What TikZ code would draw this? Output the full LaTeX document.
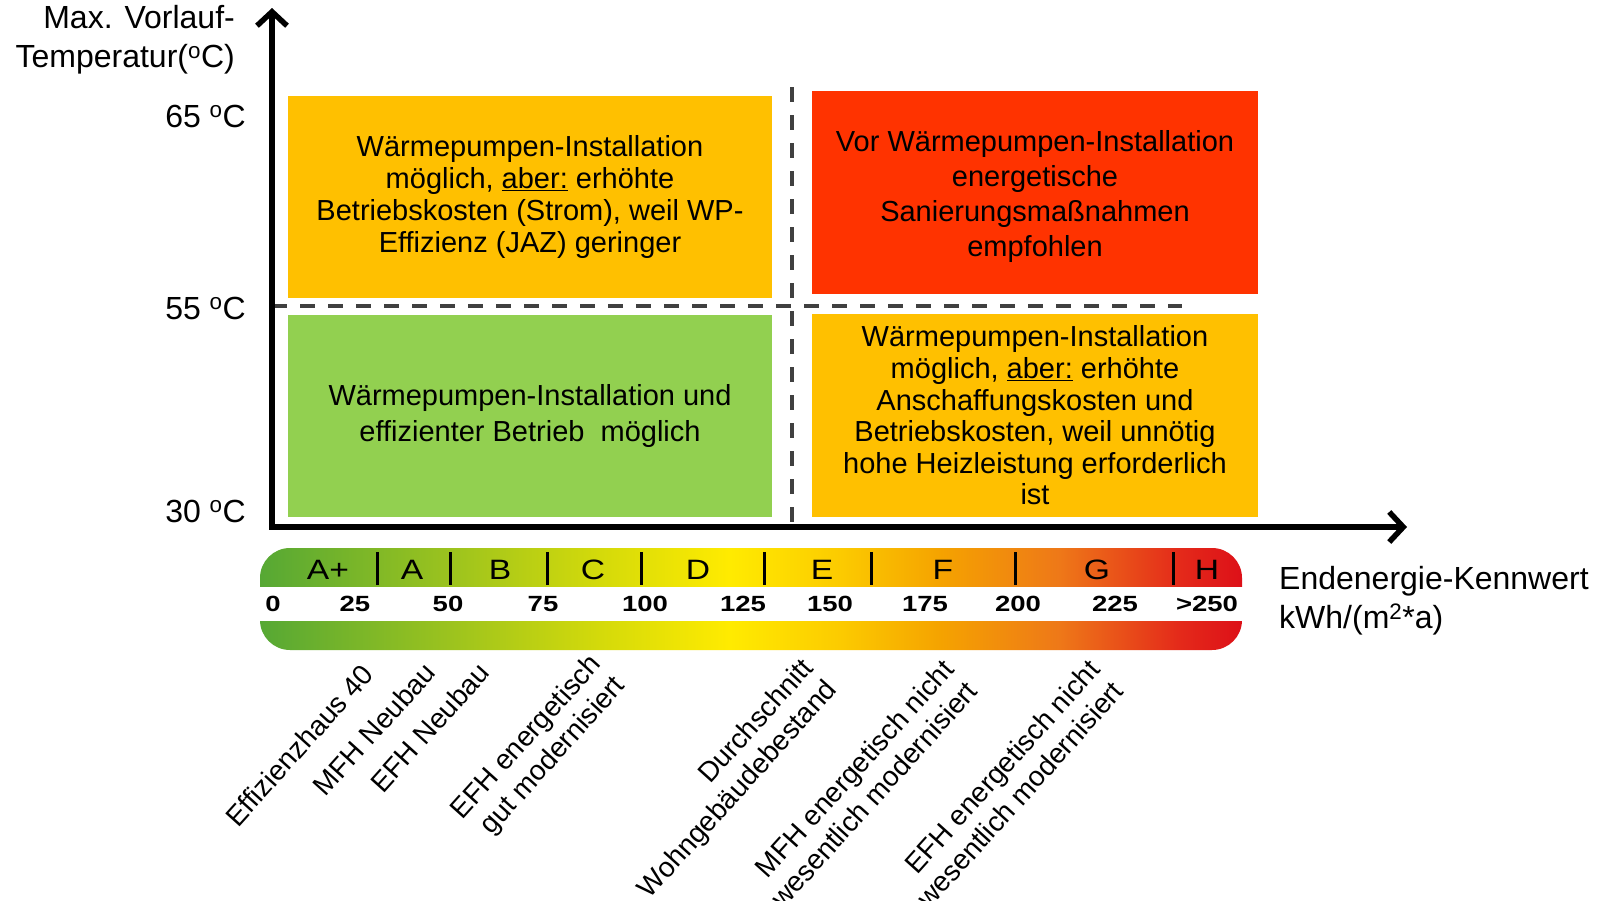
\documentclass[tikz,border=0pt]{standalone}
\usepackage{fontspec}
\setmainfont{Liberation Sans}
\usetikzlibrary{arrows.meta, positioning}

\definecolor{wpOrange}{HTML}{FFC000}
\definecolor{wpRed}{HTML}{FF3300}
\definecolor{wpGreen}{HTML}{92D050}
\definecolor{dashGray}{HTML}{404040}
\definecolor{eGreen}{HTML}{56A834}
\definecolor{eLime}{HTML}{9CC31E}
\definecolor{eYG}{HTML}{D4DA0A}
\definecolor{eYel}{HTML}{FFEB00}
\definecolor{eGold}{HTML}{FCCB00}
\definecolor{eOra}{HTML}{F5A300}
\definecolor{eDOra}{HTML}{EE7818}
\definecolor{eRed}{HTML}{E42A1A}
\definecolor{eDRed}{HTML}{DD1018}

\pgfdeclarehorizontalshading{energybar}{100bp}{color(0bp)=(eGreen); color(25bp)=(eGreen);
  color(34.7bp)=(eLime); color(42.3bp)=(eYG); color(48.9bp)=(eYel); color(54.5bp)=(eGold);
  color(59.6bp)=(eOra); color(65.7bp)=(eDOra); color(71.8bp)=(eRed); color(75bp)=(eDRed);
  color(100bp)=(eDRed)}

\tikzset{
  quad/.style={align=center, inner sep=0pt, font=\fontsize{29}{32}\selectfont},
  axislabel/.style={align=right, inner sep=0pt, font=\fontsize{32}{39}\selectfont},
  divider/.style={dashGray, line width=4pt, dash pattern=on 15pt off 13pt},
  classletter/.style={inner sep=0pt, font=\fontsize{28}{30}\selectfont\addfontfeature{FakeStretch=1.2}},
  kwhnum/.style={inner sep=0pt, font=\fontsize{22}{24}\selectfont\bfseries\addfontfeature{FakeStretch=1.25}},
  housetag/.style={rotate=48, anchor=east, align=right, inner sep=0pt,
    font=\fontsize{28}{32}\selectfont}
}

\begin{document}
\begin{tikzpicture}[x=1pt, y=-1pt]
    \useasboundingbox[fill=white] (0,0) rectangle (1604,900);

    % Quadrants
    \node[quad, fill=wpOrange, minimum width=484pt, minimum height=202pt] (hotNew) at (530,197)
      {Wärmepumpen-Installation\\möglich, \underline{aber:} erhöhte\\Betriebskosten (Strom), weil WP-\\Effizienz (JAZ) geringer};
    \node[quad, fill=wpRed, minimum width=446pt, minimum height=203pt, font=\fontsize{29}{35}\selectfont] (hotOld) at (1035,192.5)
      {\\[-5pt]Vor Wärmepumpen-Installation\\energetische\\Sanierungsmaßnahmen\\empfohlen};
    \node[quad, fill=wpGreen, minimum width=484pt, minimum height=202pt, font=\fontsize{29}{36}\selectfont] (coolNew) at (530,416)
      {Wärmepumpen-Installation und\\effizienter Betrieb~ möglich};
    \node[quad, fill=wpOrange, minimum width=446pt, minimum height=203pt, font=\fontsize{29}{31.6}\selectfont] (coolOld) at (1035,415.5)
      {Wärmepumpen-Installation\\möglich, \underline{aber:} erhöhte\\Anschaffungskosten und\\Betriebskosten, weil unnötig\\hohe Heizleistung erforderlich\\ist};

    % Dashed limits at 55 oC and between the classes D and E
    \coordinate (limL) at (272,306);
    \coordinate (limR) at (1182,306);
    \coordinate (limT) at (792,87);
    \coordinate (limB) at (792,522);
    \draw[divider] (limL) -- (limR);
    \draw[divider] (limT) -- (limB);

    % Axes
    \coordinate (origin) at (272,527);
    \coordinate (ytip) at (272,8);
    \coordinate (xtip) at (1407,527);
    \draw[line width=5.5pt, {Straight Barb[length=14pt, width=30pt]}-{Straight Barb[length=14pt, width=30pt]}]
      (ytip) -- (origin) -- (xtip);

    \node[axislabel, anchor=east] (ytitle) at (235,40) {Max. Vorlauf-\\Temperatur(\textsuperscript{o}C)};
    \node[axislabel, anchor=east] (t65) at (246,116) {65 \textsuperscript{o}C};
    \node[axislabel, anchor=east] (t55) at (246,308) {55 \textsuperscript{o}C};
    \node[axislabel, anchor=east] (t30) at (246,511) {30 \textsuperscript{o}C};
    \node[axislabel, anchor=west, align=left] (xtitle) at (1279,601) {Endenergie-Kennwert\\kWh/(m\textsuperscript{2}*a)};

    % Energy scale
    \shade[shading=energybar, rounded corners=30pt] (260,548) rectangle (1242,650);
    \fill[white] (259,587) rectangle (1243,621);
    \draw[line width=3pt] (377,552) -- (377,585);
    \draw[line width=3pt] (450,552) -- (450,585);
    \draw[line width=3pt] (547,552) -- (547,585);
    \draw[line width=3pt] (641,552) -- (641,585);
    \draw[line width=3pt] (764,552) -- (764,585);
    \draw[line width=3pt] (871,552) -- (871,585);
    \draw[line width=3pt] (1015,552) -- (1015,585);
    \draw[line width=3pt] (1173,552) -- (1173,585);

    \node[classletter] (clsAp) at (328,570) {A+};
    \node[classletter] (clsA) at (412,570) {A};
    \node[classletter] (clsB) at (500,570) {B};
    \node[classletter] (clsC) at (593,570) {C};
    \node[classletter] (clsD) at (698,570) {D};
    \node[classletter] (clsE) at (822,570) {E};
    \node[classletter] (clsF) at (943,570) {F};
    \node[classletter] (clsG) at (1097,570) {G};
    \node[classletter] (clsH) at (1207,570) {H};

    \node[kwhnum] (k0) at (273,604) {0};
    \node[kwhnum] (k25) at (355,604) {25};
    \node[kwhnum] (k50) at (448,604) {50};
    \node[kwhnum] (k75) at (543,604) {75};
    \node[kwhnum] (k100) at (645,604) {100};
    \node[kwhnum] (k125) at (743,604) {125};
    \node[kwhnum] (k150) at (830,604) {150};
    \node[kwhnum] (k175) at (925,604) {175};
    \node[kwhnum] (k200) at (1018,604) {200};
    \node[kwhnum] (k225) at (1115,604) {225};
    \node[kwhnum] (k250) at (1207,604) {>250};

    % Building types below the scale
    \node[housetag] (effi) at (368,669) {Effizienzhaus 40};
    \node[housetag] (mfhNew) at (430,667) {MFH Neubau};
    \node[housetag] (efhNew) at (484,667) {EFH Neubau};
    \node[housetag] (efhGood) at (609,671) {EFH energetisch\\gut modernisiert};
    \node[housetag] (average) at (821,675) {Durchschnitt\\Wohngebäudebestand};
    \node[housetag] (mfhOld) at (960,675) {MFH energetisch nicht\\wesentlich modernisiert};
    \node[housetag] (efhOld) at (1106,675) {EFH energetisch nicht\\wesentlich modernisiert};

\end{tikzpicture}
\end{document}
